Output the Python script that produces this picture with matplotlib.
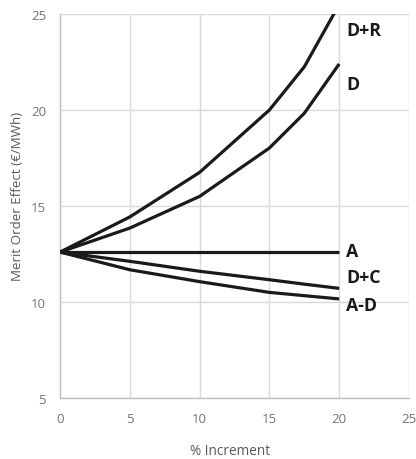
import matplotlib
matplotlib.use("Agg")
import matplotlib.pyplot as plt

x_vals = [0, 5, 10, 15, 17.5, 20]
series_names = ["D+R", "D", "A", "D+C", "A-D"]
dr_vals = [12.6, 14.43, 16.75, 20.0, 22.25, 25.5]
d_vals = [12.6, 13.85, 15.5, 18.02, 19.83, 22.4]
a_vals = [12.6, 12.6, 12.6, 12.6, 12.6, 12.6]
dc_vals = [12.6, 12.12, 11.6, 11.16, 10.93, 10.71]
ad_vals = [12.6, 11.68, 11.06, 10.5, 10.33, 10.16]
label_y = [24.17, 21.38, 12.68, 11.28, 9.82]

plt.rcParams['font.family'] = ['Open Sans', 'DejaVu Sans']
fig = plt.figure(figsize=(4.16, 4.6), dpi=100)
ax = fig.add_axes([60/416, 1-399/460, (409-60)/416, (399-15)/460])

for vals in [dr_vals, d_vals, a_vals, dc_vals, ad_vals]:
    ax.plot(x_vals, vals, color="#1a1a1a", lw=2.3, solid_capstyle="butt", zorder=3)

for name, ly in zip(series_names, label_y):
    ax.text(20.48, ly, name, fontsize=12.8, fontweight="bold", color="#1a1a1a",
            va="center", ha="left", zorder=4)

ax.set_xlim(0, 25)
ax.set_ylim(5, 25)
ax.set_xticks([0, 5, 10, 15, 20, 25])
ax.set_yticks([5, 10, 15, 20, 25])
ax.grid(True, color="#d9d9d9", lw=1)
ax.set_axisbelow(True)
for s in ["top", "right"]:
    ax.spines[s].set_visible(False)
for s in ["left", "bottom"]:
    ax.spines[s].set_color("#bfbfbf")
    ax.spines[s].set_linewidth(1)
ax.tick_params(length=0, colors="#737373", labelsize=9.5, pad=10)
ax.set_xlabel("% Increment", fontsize=9.8, color="#595959")
ax.set_ylabel("Merit Order Effect (€/MWh)", fontsize=9.6, color="#595959")
ax.xaxis.set_label_coords((230-60)/349, -(452-399)/384)
ax.yaxis.set_label_coords(-(60-18)/349, (399-196)/384)
ax.xaxis.label.set_va("center")
ax.yaxis.label.set_va("center")

fig.savefig("out.png", dpi=100)
